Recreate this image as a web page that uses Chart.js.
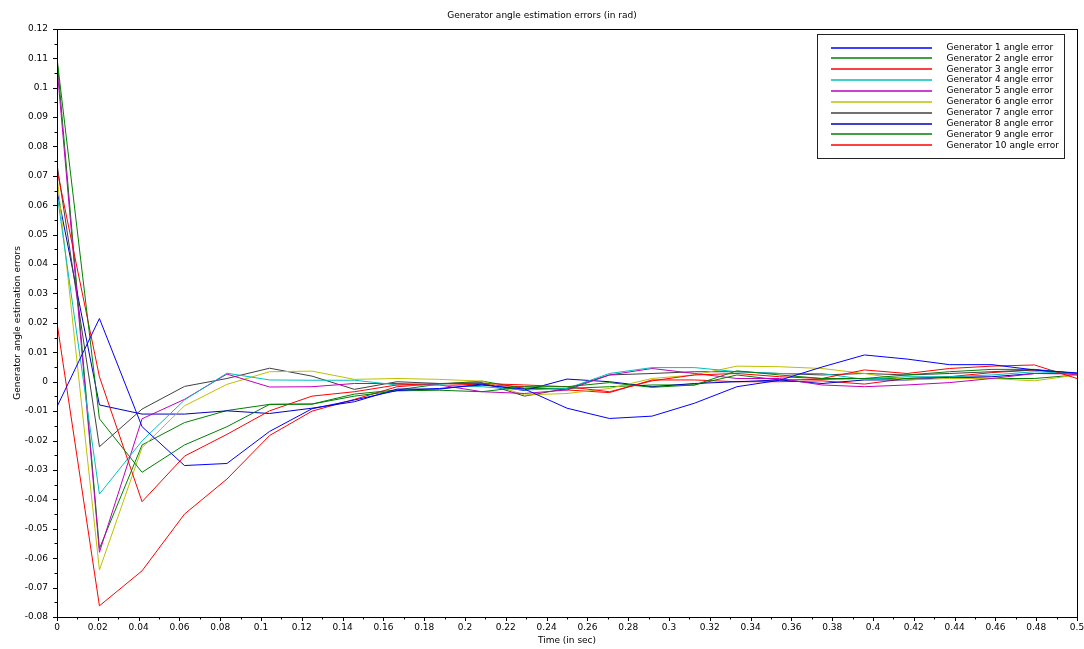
<!DOCTYPE html>
<html>
<head>
<meta charset="utf-8">
<script src="https://cdn.jsdelivr.net/npm/chart.js@4.4.1/dist/chart.umd.min.js"></script>
<style>
  body { margin: 0; background: #fff; }
  #wrap { width: 1084px; height: 649px; }
</style>
</head>
<body>
<div id="wrap"><canvas id="chart" width="1084" height="649"></canvas></div>
<script>
const times = [0, 0.0208, 0.0417, 0.0625, 0.0833, 0.1042, 0.125, 0.1458, 0.1667, 0.1875,
    0.2083, 0.2292, 0.25, 0.2708, 0.2917, 0.3125, 0.3333, 0.3542, 0.375, 0.3958,
    0.4167, 0.4375, 0.4583, 0.4792, 0.5];

const gen1 = [-0.0085, 0.0215, -0.0153, -0.0285, -0.0278, -0.0169, -0.0092, -0.0062, -0.0030, -0.0023,
    -0.0011, -0.0025, -0.0090, -0.0125, -0.0117, -0.0073, -0.0017, 0.0005, 0.0050, 0.0091,
    0.0077, 0.0058, 0.0058, 0.0040, 0.0030];
const gen2 = [0.110, -0.0126, -0.0308, -0.0215, -0.0153, -0.0077, -0.0076, -0.0049, -0.0031, -0.0029,
    -0.0034, -0.0017, -0.0017, -0.0003, -0.0019, -0.0011, 0.0037, 0.0023, 0.0011, 0.0011,
    0.0023, 0.0034, 0.0042, 0.0042, 0.0028];
const gen3 = [0.072, 0.0017, -0.0408, -0.0253, -0.0179, -0.0099, -0.0049, -0.0034, -0.0011, -0.0006,
    -0.0006, -0.0011, -0.0017, -0.0034, 0.0003, 0.0023, 0.0028, 0.0017, 0.0011, 0.0040,
    0.0028, 0.0045, 0.0053, 0.0057, 0.0011];
const gen4 = [0.064, -0.0382, -0.0201, -0.0062, 0.0029, 0.0006, 0.0005, 0.0005, -0.0011, -0.0011,
    -0.0017, -0.0028, -0.0023, 0.0028, 0.0048, 0.0048, 0.0034, 0.0028, 0.0028, 0.0008,
    0.0017, 0.0017, 0.0023, 0.0034, 0.0028];
const gen5 = [0.107, -0.0580, -0.0126, -0.0060, 0.0026, -0.0018, -0.0017, -0.0006, -0.0006, -0.0011,
    -0.0034, -0.0040, -0.0028, 0.0023, 0.0045, 0.0028, 0.0011, 0.0011, -0.0011, -0.0017,
    -0.0011, -0.0003, 0.0011, 0.0028, 0.0026];
const gen6 = [0.070, -0.0640, -0.0224, -0.0082, -0.0009, 0.0034, 0.0036, 0.0008, 0.0011, 0.0008,
    0.0002, -0.0045, -0.0040, -0.0023, 0.0011, 0.0023, 0.0053, 0.0051, 0.0045, 0.0028,
    0.0006, 0.0011, 0.0011, 0.0003, 0.0023];
const gen7 = [0.074, -0.0221, -0.0093, -0.0016, 0.0011, 0.0046, 0.0019, -0.0026, 0.0000, -0.0006,
    -0.0003, -0.0049, -0.0023, 0.0023, 0.0028, 0.0034, 0.0034, 0.0028, 0.0023, 0.0028,
    0.0023, 0.0028, 0.0034, 0.0040, 0.0028];
const gen8 = [0.065, -0.0079, -0.0110, -0.0110, -0.0099, -0.0108, -0.0090, -0.0068, -0.0025, -0.0025,
    -0.0008, -0.0030, 0.0009, 0.0000, -0.0017, -0.0006, 0.0000, 0.0006, -0.0006, 0.0006,
    0.0006, 0.0015, 0.0017, 0.0028, 0.0028];
const gen9 = [0.110, -0.0567, -0.0215, -0.0139, -0.0098, -0.0077, -0.0076, -0.0042, -0.0028, -0.0008,
    0.0002, -0.0023, -0.0023, -0.0017, -0.0011, -0.0011, 0.0023, 0.0006, 0.0008, 0.0011,
    0.0011, 0.0017, 0.0011, 0.0011, 0.0023];
const gen10 = [0.020, -0.0762, -0.0643, -0.0450, -0.0331, -0.0183, -0.0100, -0.0060, -0.0017, -0.0006,
    -0.0011, -0.0017, -0.0028, -0.0037, 0.0006, 0.0006, 0.0000, 0.0000, 0.0003, -0.0008,
    0.0011, 0.0017, 0.0031, 0.0040, 0.0023];

const seriesNames = ['Generator 1 angle error', 'Generator 2 angle error', 'Generator 3 angle error',
    'Generator 4 angle error', 'Generator 5 angle error', 'Generator 6 angle error',
    'Generator 7 angle error', 'Generator 8 angle error', 'Generator 9 angle error',
    'Generator 10 angle error'];
const seriesValues = [gen1, gen2, gen3, gen4, gen5, gen6, gen7, gen8, gen9, gen10];
const seriesColors = ['#0000ff', '#008000', '#ff0000', '#00bfbf', '#bf00bf', '#bfbf00',
    '#404040', '#0000c0', '#008000', '#ff0000'];

const FONT = 'DejaVu Sans';

function fmt(v) {
    const s = String(parseFloat(v.toFixed(3)));
    return s === '-0' ? '0' : s;
}

// ticks, frame and legend box drawn on top of the chart
const framePlugin = {
    id: 'frame',
    afterDraw(chart) {
        const ctx = chart.ctx;
        const a = chart.chartArea;
        const xs = chart.scales.x, ys = chart.scales.y;
        ctx.save();
        ctx.strokeStyle = '#000';
        ctx.lineWidth = 1;
        ctx.beginPath();
        xs.ticks.forEach(t => {
            const px = Math.round(xs.getPixelForValue(t.value)) + 0.5;
            const major = Math.round(t.value * 100) % 2 === 0;
            ctx.moveTo(px, a.bottom);
            ctx.lineTo(px, a.bottom + (major ? 4 : 2.5));
        });
        ys.ticks.forEach(t => {
            const py = Math.round(ys.getPixelForValue(t.value)) + 0.5;
            const major = Math.round(t.value * 1000) % 10 === 0;
            ctx.moveTo(a.left, py);
            ctx.lineTo(a.left - (major ? 4 : 2.5), py);
        });
        ctx.stroke();
        ctx.strokeRect(Math.round(a.left) + 0.5, Math.round(a.top) + 0.5,
            Math.round(a.right - a.left), Math.round(a.bottom - a.top));

        // legend
        const bx = 817.5, by = 34.5, bw = 247, bh = 124;
        ctx.fillStyle = '#fff';
        ctx.fillRect(bx, by, bw, bh);
        ctx.strokeStyle = '#222';
        ctx.strokeRect(bx, by, bw, bh);
        ctx.font = '9px "' + FONT + '"';
        ctx.textBaseline = 'middle';
        ctx.textAlign = 'left';
        chart.data.datasets.forEach((ds, i) => {
            const y = 47.5 + i * 10.86;
            ctx.strokeStyle = ds.borderColor;
            ctx.lineWidth = 1.3;
            ctx.beginPath();
            ctx.moveTo(831, Math.round(y));
            ctx.lineTo(932, Math.round(y));
            ctx.stroke();
            ctx.fillStyle = '#000';
            ctx.fillText(ds.label, 946.5, y);
        });
        ctx.restore();
    }
};

new Chart(document.getElementById('chart'), {
    type: 'line',
    data: {
        datasets: seriesValues.map((vals, i) => ({
            label: seriesNames[i],
            data: vals.map((v, k) => ({ x: times[k], y: v })),
            borderColor: seriesColors[i],
            backgroundColor: seriesColors[i],
            borderWidth: 1,
            pointRadius: 0,
            tension: 0,
            fill: false
        }))
    },
    options: {
        responsive: false,
        animation: false,
        layout: { padding: { left: 0, right: 0, top: 0, bottom: 0 } },
        plugins: {
            legend: { display: false },
            tooltip: { enabled: false },
            title: {
                display: true,
                text: 'Generator angle estimation errors (in rad)',
                color: '#000',
                font: { family: FONT, size: 9, weight: 'normal' },
                padding: { top: 10, bottom: 8 }
            }
        },
        scales: {
            x: {
                type: 'linear',
                min: 0,
                max: 0.5,
                afterFit: s => { s.height = 32; s.paddingLeft = 0; s.paddingRight = 7; },
                grid: { display: false, drawTicks: false },
                border: { display: false },
                ticks: {
                    stepSize: 0.01,
                    maxTicksLimit: 100,
                    autoSkip: false,
                    maxRotation: 0,
                    padding: 5,
                    color: '#000',
                    font: { family: FONT, size: 9 },
                    callback: v => (Math.round(v * 100) % 2 === 0 ? fmt(v) : '')
                },
                title: {
                    display: true,
                    text: 'Time (in sec)',
                    color: '#000',
                    font: { family: FONT, size: 9 },
                    padding: { top: 0, bottom: 3 }
                }
            },
            y: {
                min: -0.08,
                max: 0.12,
                afterFit: s => { s.width = 57; },
                grid: { display: false, drawTicks: false },
                border: { display: false },
                ticks: {
                    stepSize: 0.005,
                    maxTicksLimit: 100,
                    autoSkip: false,
                    padding: 9,
                    color: '#000',
                    font: { family: FONT, size: 9 },
                    callback: v => (Math.round(v * 1000) % 10 === 0 ? fmt(v) : '')
                },
                title: {
                    display: true,
                    text: 'Generator angle estimation errors',
                    color: '#000',
                    font: { family: FONT, size: 9 },
                    padding: { top: 12, bottom: 0 }
                }
            }
        }
    },
    plugins: [framePlugin]
});
</script>
</body>
</html>
